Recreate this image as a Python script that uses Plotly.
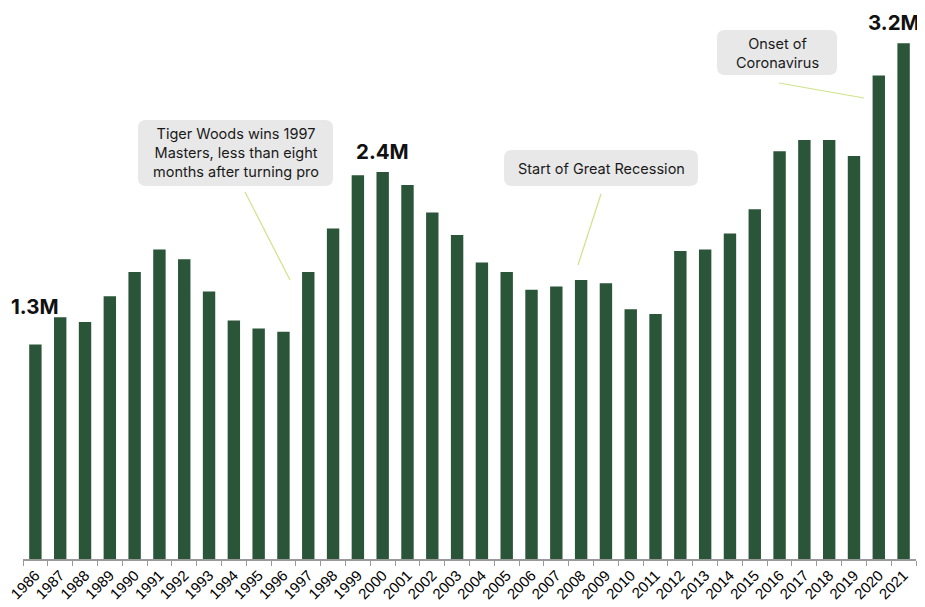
import plotly.graph_objects as go

years = [str(y) for y in range(1986, 2022)]
values = [1.33, 1.50, 1.47, 1.63, 1.78, 1.92, 1.86, 1.66, 1.48, 1.43, 1.41, 1.78,
          2.05, 2.38, 2.40, 2.32, 2.15, 2.01, 1.84, 1.78, 1.67, 1.69, 1.73, 1.71,
          1.55, 1.52, 1.91, 1.92, 2.02, 2.17, 2.53, 2.60, 2.60, 2.50, 3.00, 3.20]
value_labels = {"1986": "1.3M", "2000": "2.4M", "2021": "3.2M"}
callouts = [
    ("Tiger Woods wins 1997<br>Masters, less than eight<br>months after turning pro", (138, 120, 333, 186), ((245, 192), (290, 280))),
    ("Start of Great Recession", (504, 150, 698, 186), ((601, 194), (578, 265))),
    ("Onset of<br>Coronavirus", (717, 30, 837, 75), ((779, 83), (864, 98))),
]

# page has an 8px body margin; figure placed at (8, 8)
OFF = 8
W, H = 925 - OFF, 607 - OFF
PL, PR, PT, PB = 23, 916, 20, 559          # plot area in page pixels
ML, MR, MT, MB = PL - OFF, W - (PR - OFF), PT - OFF, H - (PB - OFF)
PW, PH = PR - PL, PB - PT
YMAX = PH / 161.2

def px(x):
    return (x - PL) / PW

def py(y):
    return (PB - y) / PH

def rrect(x0, y0, x1, y1, r=8):
    a, b, c, d = px(x0), py(y1), px(x1), py(y0)
    rx, ry = r / PW, r / PH
    return (f"M {a+rx},{d} L {c-rx},{d} Q {c},{d} {c},{d-ry} L {c},{b+ry} Q {c},{b} {c-rx},{b} "
            f"L {a+rx},{b} Q {a},{b} {a},{b+ry} L {a},{d-ry} Q {a},{d} {a+rx},{d} Z")

fig = go.Figure(go.Bar(x=years, y=values, marker=dict(color="#2b5538", line=dict(width=0)),
                       hoverinfo="x+y"))

shapes, annos = [], []
for text, (x0, y0, x1, y1), ((lx0, ly0), (lx1, ly1)) in callouts:
    shapes.append(dict(type="path", path=rrect(x0, y0, x1, y1), xref="paper", yref="paper",
                       fillcolor="#e8e8e8", line=dict(width=0), layer="above"))
    shapes.append(dict(type="line", xref="paper", yref="paper", x0=px(lx0), y0=py(ly0),
                       x1=px(lx1), y1=py(ly1), line=dict(color="#cde38a", width=1.2)))
    annos.append(dict(text=text, xref="paper", yref="paper", x=px((x0 + x1) / 2), y=py((y0 + y1) / 2),
                      xanchor="center", yanchor="middle", showarrow=False,
                      font=dict(family="Inter", size=14.5, color="#1a1a1a")))

for yr, lab in value_labels.items():
    i = years.index(yr)
    v = values[i]
    xs = -10 if yr == "2021" else 0
    yshift = 24 if yr == "1986" else 6
    annos.append(dict(text=f"<b>{lab}</b>", x=i, y=v, xref="x", yref="y", yanchor="bottom",
                      xanchor="center", showarrow=False, yshift=yshift, xshift=xs,
                      font=dict(family="Inter", size=20.5, color="#111111")))

fig.update_layout(
    width=W, height=H, margin=dict(l=ML, r=MR, t=MT, b=MB),
    plot_bgcolor="white", paper_bgcolor="white", bargap=0.5, showlegend=False,
    shapes=shapes, annotations=annos,
    xaxis=dict(type="category", range=[-0.5, len(years) - 0.5], showline=True,
               linecolor="#9a9a9a", linewidth=1.5,
               ticks="outside", tickson="boundaries", ticklen=5, tickcolor="#9a9a9a",
               tickangle=-45, tickfont=dict(family="Liberation Sans", size=15, color="black"),
               showgrid=False, automargin=False),
    yaxis=dict(visible=False, range=[0, YMAX], showgrid=False, zeroline=False),
)

fig.write_html("out.html")
